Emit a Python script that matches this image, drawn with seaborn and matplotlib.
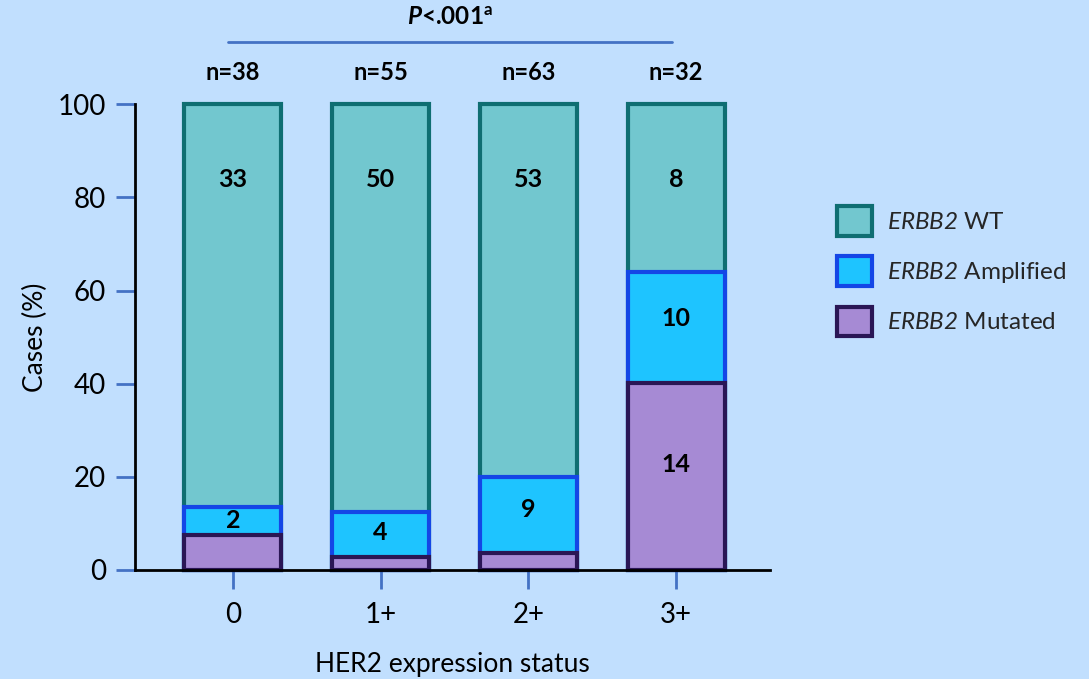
import matplotlib
matplotlib.use("Agg")
import matplotlib.pyplot as plt
from matplotlib.patches import Patch
import seaborn as sns
import pandas as pd

# HER2 expression groups and case counts
statuses = ["0", "1+", "2+", "3+"]
group_n = [38, 55, 63, 32]

# share of cases (%) by ERBB2 status, stacked bottom-up: mutated, amplified, wild type
mutated_pct = [7.5, 2.7, 3.6, 40.1]
amplified_pct = [6.0, 9.8, 16.4, 23.9]
wt_pct = [86.5, 87.5, 80.0, 36.0]

# case counts printed inside the segments
wt_counts = ["33", "50", "53", "8"]
amplified_counts = ["2", "4", "9", "10"]
mutated_counts = ["", "", "", "14"]

BG = "#C1DFFE"
TICK_BLUE = "#4472C4"
styles = {
    "wt": dict(face="#72C7CF", edge="#0F6E72"),
    "amp": dict(face="#1EC4FF", edge="#1446E6"),
    "mut": dict(face="#A68AD4", edge="#2A1655"),
}

sns.set_theme(style="white")
FONT = "Lato"
plt.rcParams["font.family"] = [FONT, "DejaVu Sans"]
plt.rcParams["mathtext.fontset"] = "custom"
# gene symbols are set fully in italics, digits included
plt.rcParams["mathtext.rm"] = f"{FONT}:italic"
plt.rcParams["mathtext.it"] = f"{FONT}:italic"
plt.rcParams["mathtext.bf"] = f"{FONT}:bold"
plt.rcParams["mathtext.bfit"] = f"{FONT}:italic:bold"

df = pd.DataFrame({
    "status": statuses,
    "mut": mutated_pct,
    "amp": amplified_pct,
    "wt": wt_pct,
})
df["mut_top"] = df["mut"]
df["amp_top"] = df["mut"] + df["amp"]
df["wt_top"] = df["amp_top"] + df["wt"]

fig = plt.figure(figsize=(10.89, 6.79), dpi=100, facecolor=BG)
ax = fig.add_axes([135 / 1089, 1 - 570 / 679, (770 - 135) / 1089, (570 - 104.3) / 679])
ax.set_facecolor(BG)

BAR_W = 0.655
# cumulative stacks, tallest first so each lower segment sits on top
for key, col in [("wt", "wt_top"), ("amp", "amp_top"), ("mut", "mut_top")]:
    sns.barplot(data=df, x="status", y=col, order=statuses, ax=ax,
                color=styles[key]["face"], edgecolor=styles[key]["edge"],
                linewidth=3, width=BAR_W, saturation=1, errorbar=None)
for p in ax.patches:
    p.set_clip_on(False)

ax.set_xlim(-0.662, 3.635)
ax.set_ylim(0, 100)
ax.set_yticks([0, 20, 40, 60, 80, 100])


def label_y(bottom, height):
    # a touch above the segment midpoint, more for taller segments
    return bottom + height / 2 + min(0.1 * height, 3.0)


lab_kw = dict(ha="center", fontsize=18, fontweight="bold", color="black")
for i in range(len(statuses)):
    ax.text(i, 83.8, wt_counts[i], va="center", **lab_kw)
    ax.text(i, label_y(df["mut_top"][i], df["amp"][i]), amplified_counts[i],
            va="center_baseline", **lab_kw)
    if mutated_counts[i]:
        ax.text(i, label_y(0, df["mut"][i]), mutated_counts[i],
                va="center_baseline", **lab_kw)
    ax.text(i, 106.9, f"n={group_n[i]}", ha="center", va="center",
            fontsize=17, fontweight="bold", color="black", clip_on=False)

# significance bracket over the groups
ax.plot([-0.03, 2.97], [113.4, 113.4], color=TICK_BLUE, lw=2, clip_on=False)
ax.text(1.47, 118.8, r"$\mathbfit{P}$<.001$^{\mathbf{a}}$", ha="center", va="center",
        fontsize=17.5, fontweight="bold", color="black", clip_on=False)

sns.despine(ax=ax)
for s in ("left", "bottom"):
    ax.spines[s].set_color("black")
    ax.spines[s].set_linewidth(2)
ax.tick_params(axis="both", which="major", direction="out", length=14, width=2,
               color=TICK_BLUE, labelsize=20, labelcolor="black", pad=7,
               left=True, bottom=True)
ax.tick_params(axis="x", pad=9)

ax.set_xlabel("HER2 expression status", fontsize=19, color="black", labelpad=17)
ax.set_ylabel("Cases (%)", fontsize=19, color="black", labelpad=7)

handles = [
    Patch(facecolor=styles["wt"]["face"], edgecolor=styles["wt"]["edge"], linewidth=3),
    Patch(facecolor=styles["amp"]["face"], edgecolor=styles["amp"]["edge"], linewidth=3),
    Patch(facecolor=styles["mut"]["face"], edgecolor=styles["mut"]["edge"], linewidth=3),
]
labels = [r"$\mathit{ERBB2}$ WT", r"$\mathit{ERBB2}$ Amplified", r"$\mathit{ERBB2}$ Mutated"]
fig.legend(handles, labels, loc="upper left", bbox_to_anchor=(837 / 1089, 1 - 206 / 679),
           frameon=False, fontsize=17.5, handlelength=1.45, handleheight=1.5,
           handletextpad=0.6, labelspacing=0.85, borderpad=0, borderaxespad=0)

fig.savefig("out.png", dpi=100, facecolor=BG)
